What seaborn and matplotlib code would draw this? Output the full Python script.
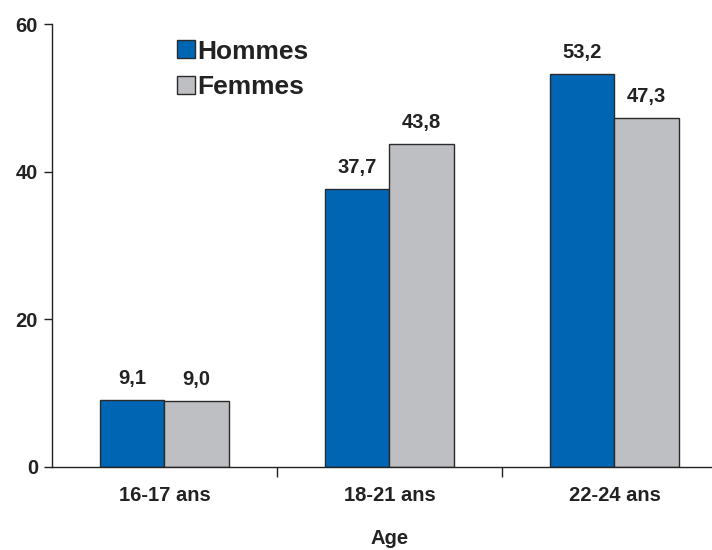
import matplotlib
matplotlib.use("Agg")
import matplotlib.pyplot as plt
import seaborn as sns
import pandas as pd

categories = ["16-17 ans", "18-21 ans", "22-24 ans"]
series_names = ["Hommes", "Femmes"]
hommes = [9.1, 37.7, 53.2]
femmes = [9.0, 43.8, 47.3]
y_ticks = [0, 20, 40, 60]

colors = ["#0066B3", "#BEBFC3"]

df = pd.DataFrame({
    "Age": categories * 2,
    "value": hommes + femmes,
    "sexe": [series_names[0]] * 3 + [series_names[1]] * 3,
})

sns.set_style("white")
plt.rcParams["font.family"] = ["Liberation Sans", "DejaVu Sans"]
plt.rcParams["font.weight"] = "bold"

FS = 14.5
TC = "#222222"

fig = plt.figure(figsize=(7.12, 5.5), dpi=100)
ax = fig.add_axes([52 / 712, 1 - 467 / 550, 675 / 712, 443 / 550])

sns.barplot(data=df, x="Age", y="value", hue="sexe", palette=colors,
            saturation=1, width=0.57, edgecolor="#2a2a2a", linewidth=1.0,
            ax=ax, legend=True)

for cont, vals in zip(ax.containers, [hommes, femmes]):
    ax.bar_label(cont, labels=[f"{v:.1f}".replace(".", ",") for v in vals],
                 padding=8.5, fontsize=FS, fontweight="bold", color=TC)

ax.set_xlim(-0.5, 2.5)
ax.set_ylim(0, 60)
ax.set_yticks(y_ticks)
ax.set_yticklabels([str(t) for t in y_ticks], fontsize=FS, fontweight="bold", color=TC)
ax.set_xticks(range(len(categories)))
ax.set_xticklabels(categories, fontsize=FS, fontweight="bold", color=TC)
ax.set_xticks([0.5, 1.5], minor=True)
ax.tick_params(axis="x", which="major", length=0, pad=14)
ax.tick_params(axis="x", which="minor", length=7, width=1, color=TC, direction="out", bottom=True)
ax.tick_params(axis="y", length=6, width=1, color=TC, direction="out", left=True, pad=4)

ax.set_xlabel("Age", fontsize=FS, fontweight="bold", color=TC, labelpad=17)
ax.set_ylabel("")

for s in ["top", "right"]:
    ax.spines[s].set_visible(False)
for s in ["left", "bottom"]:
    ax.spines[s].set_color(TC)
    ax.spines[s].set_linewidth(1.0)

leg = ax.legend(loc="upper left", bbox_to_anchor=(166 / 712, 1 - 29 / 550),
                bbox_transform=fig.transFigure, frameon=False,
                prop={"size": 19, "weight": "bold"}, handlelength=0.68,
                handleheight=0.68, handletextpad=0.12, labelspacing=0.45,
                borderaxespad=0)
for t in leg.get_texts():
    t.set_color(TC)

fig.savefig("out.png", dpi=100)
